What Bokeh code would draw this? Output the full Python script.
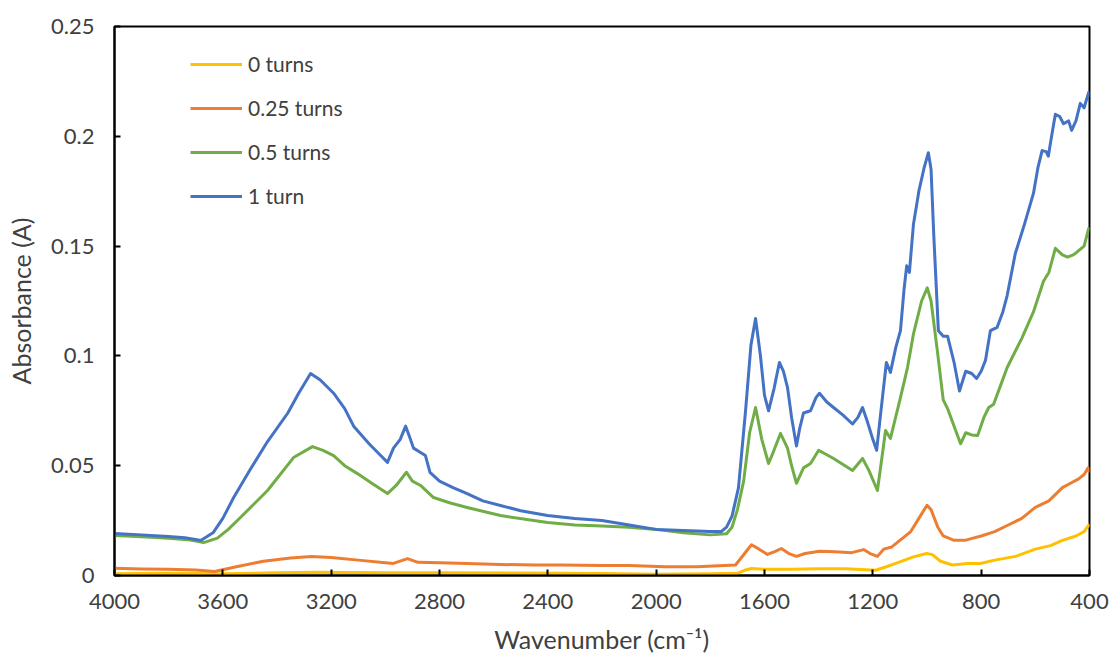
from bokeh.plotting import figure
from bokeh.models import Range1d, FixedTicker, Legend, LegendItem
from bokeh.embed import file_html
from bokeh.resources import INLINE

# ---- data: FTIR absorbance spectra (wavenumber in cm-1, absorbance in A) ----
wn_0 = [4000, 3800, 3600, 3400, 3250, 3000, 2800, 2500, 2200, 2000, 1800, 1700, 1670,
        1648, 1600, 1553, 1500, 1400, 1300, 1190, 1150, 1100, 1050, 1002, 980, 950,
        906, 850, 803, 750, 673, 600, 544, 500, 450, 420, 403, 400]
abs_0 = [0.0008, 0.0010, 0.0008, 0.0012, 0.0015, 0.0013, 0.0012, 0.0011, 0.0009, 0.0006,
         0.0008, 0.0010, 0.0025, 0.0032, 0.0028, 0.0029, 0.0028, 0.0031, 0.0031, 0.0024,
         0.0040, 0.0062, 0.0085, 0.0100, 0.0095, 0.0065, 0.0048, 0.0055, 0.0055, 0.0070,
         0.0087, 0.0120, 0.0136, 0.0160, 0.0180, 0.0200, 0.0230, 0.0220]

wn_025 = [4000, 3900, 3800, 3700, 3631, 3550, 3450, 3350, 3273, 3200, 3100, 3000, 2970,
          2918, 2880, 2800, 2700, 2575, 2450, 2354, 2200, 2100, 1966, 1850, 1707, 1680,
          1648, 1620, 1589, 1560, 1538, 1510, 1482, 1450, 1397, 1340, 1278, 1234, 1210,
          1183, 1160, 1130, 1100, 1060, 1030, 1000, 985, 960, 940, 900, 860, 830, 800,
          750, 700, 650, 600, 550, 500, 470, 440, 420, 405, 400]
abs_025 = [0.0033, 0.0030, 0.0028, 0.0025, 0.0018, 0.0040, 0.0065, 0.0080, 0.0087, 0.0082,
           0.0070, 0.0058, 0.0055, 0.0077, 0.0060, 0.0058, 0.0055, 0.0050, 0.0048, 0.0048,
           0.0045, 0.0045, 0.0040, 0.0040, 0.0048, 0.0090, 0.0140, 0.0120, 0.0096, 0.0110,
           0.0123, 0.0100, 0.0087, 0.0100, 0.0110, 0.0108, 0.0104, 0.0118, 0.0100, 0.0087,
           0.0120, 0.0130, 0.0160, 0.0200, 0.0260, 0.0320, 0.0300, 0.0220, 0.0180, 0.0160,
           0.0160, 0.0170, 0.0180, 0.0200, 0.0230, 0.0260, 0.0310, 0.0340, 0.0400, 0.0420,
           0.0440, 0.0460, 0.0490, 0.0470]

wn_05 = [4000, 3900, 3800, 3720, 3671, 3620, 3580, 3535, 3435, 3339, 3269, 3230, 3191,
         3150, 3103, 3050, 2992, 2960, 2922, 2900, 2870, 2822, 2760, 2698, 2575, 2401,
         2300, 2200, 2100, 2000, 1900, 1800, 1740, 1720, 1700, 1677, 1655, 1633, 1610,
         1585, 1565, 1541, 1515, 1500, 1482, 1456, 1430, 1400, 1370, 1345, 1275, 1238,
         1215, 1183, 1165, 1153, 1135, 1100, 1072, 1050, 1020, 999, 985, 962, 940, 924,
         900, 876, 857, 835, 813, 790, 772, 754, 730, 704, 650, 607, 570, 550, 526, 500,
         481, 460, 449, 420, 403, 400]
abs_05 = [0.0182, 0.0176, 0.0170, 0.0162, 0.0150, 0.0170, 0.0210, 0.0264, 0.0387, 0.0537,
          0.0587, 0.0570, 0.0546, 0.0500, 0.0464, 0.0420, 0.0373, 0.0410, 0.0470, 0.0430,
          0.0410, 0.0355, 0.0330, 0.0310, 0.0273, 0.0241, 0.0230, 0.0225, 0.0220, 0.0210,
          0.0195, 0.0185, 0.0190, 0.0220, 0.0300, 0.0430, 0.0650, 0.0765, 0.0620, 0.0510,
          0.0570, 0.0647, 0.0580, 0.0500, 0.0420, 0.0490, 0.0510, 0.0570, 0.0550, 0.0533,
          0.0478, 0.0533, 0.0480, 0.0387, 0.0550, 0.0660, 0.0624, 0.0800, 0.0947, 0.1100,
          0.1250, 0.1310, 0.1250, 0.1025, 0.0800, 0.0760, 0.0680, 0.0600, 0.0650, 0.0640,
          0.0638, 0.0720, 0.0765, 0.0780, 0.0860, 0.0947, 0.1080, 0.1200, 0.1340, 0.1380,
          0.1490, 0.1460, 0.1450, 0.1460, 0.1470, 0.1500, 0.1580, 0.1570]

wn_1 = [4000, 3900, 3800, 3740, 3680, 3635, 3600, 3560, 3500, 3435, 3360, 3320, 3276,
        3240, 3191, 3150, 3117, 3060, 3020, 2992, 2970, 2945, 2925, 2910, 2896, 2870,
        2852, 2835, 2800, 2750, 2698, 2640, 2575, 2500, 2401, 2300, 2200, 2100, 2000,
        1900, 1800, 1760, 1740, 1720, 1696, 1670, 1650, 1633, 1615, 1600, 1585, 1565,
        1545, 1530, 1515, 1500, 1482, 1470, 1456, 1430, 1410, 1397, 1370, 1345, 1310,
        1275, 1255, 1238, 1220, 1200, 1186, 1170, 1150, 1135, 1115, 1098, 1085, 1075,
        1065, 1050, 1030, 1010, 995, 985, 975, 958, 940, 924, 900, 880, 870, 857, 835,
        817, 800, 784, 766, 741, 720, 704, 674, 640, 607, 590, 575, 560, 552, 540, 526,
        510, 496, 477, 466, 450, 434, 420, 403, 400]
abs_1 = [0.0191, 0.0185, 0.0178, 0.0172, 0.0160, 0.0196, 0.0260, 0.0355, 0.0480, 0.0610,
         0.0740, 0.0830, 0.0920, 0.0890, 0.0830, 0.0760, 0.0680, 0.0600, 0.0550, 0.0515,
         0.0580, 0.0620, 0.0680, 0.0630, 0.0580, 0.0560, 0.0546, 0.0470, 0.0430, 0.0400,
         0.0373, 0.0340, 0.0319, 0.0295, 0.0273, 0.0260, 0.0250, 0.0230, 0.0210, 0.0205,
         0.0200, 0.0200, 0.0220, 0.0270, 0.0400, 0.0750, 0.1050, 0.1170, 0.1000, 0.0820,
         0.0750, 0.0850, 0.0970, 0.0930, 0.0856, 0.0720, 0.0590, 0.0670, 0.0740, 0.0750,
         0.0810, 0.0830, 0.0790, 0.0765, 0.0730, 0.0690, 0.0720, 0.0765, 0.0700, 0.0620,
         0.0570, 0.0750, 0.0970, 0.0925, 0.1040, 0.1115, 0.1300, 0.1410, 0.1380, 0.1600,
         0.1750, 0.1860, 0.1925, 0.1850, 0.1550, 0.1115, 0.1090, 0.1090, 0.0970, 0.0840,
         0.0880, 0.0930, 0.0920, 0.0897, 0.0930, 0.0980, 0.1115, 0.1130, 0.1200, 0.1275,
         0.1466, 0.1600, 0.1740, 0.1860, 0.1935, 0.1930, 0.1910, 0.2000, 0.2100, 0.2090,
         0.2057, 0.2070, 0.2027, 0.2070, 0.2150, 0.2130, 0.2200, 0.2180]

series_names = ["0 turns", "0.25 turns", "0.5 turns", "1 turn"]
series_colors = ["#FFC000", "#ED7D31", "#70AD47", "#4472C4"]

x_ticks = [4000, 3600, 3200, 2800, 2400, 2000, 1600, 1200, 800, 400]
x_tick_labels = ["4000", "3600", "3200", "2800", "2400", "2000", "1600", "1200", "800", "400"]
y_ticks = [0, 0.05, 0.1, 0.15, 0.2, 0.25]
y_tick_labels = ["0", "0.05", "0.1", "0.15", "0.2", "0.25"]

FONT = "Lato"
TEXT_COLOR = "#404040"

p = figure(width=1109, height=657, output_backend="svg", toolbar_location=None,
           x_range=Range1d(4000, 400), y_range=Range1d(0, 0.25),
           min_border_left=114, min_border_right=20, min_border_top=26, min_border_bottom=82)
p.grid.visible = False
p.outline_line_color = "black"
p.outline_line_width = 2
p.background_fill_color = "white"
p.border_fill_color = "white"

renderers = []
for wn, ab, color in zip([wn_0, wn_025, wn_05, wn_1], [abs_0, abs_025, abs_05, abs_1], series_colors):
    r = p.line(wn, ab, line_color=color, line_width=3, line_join="round")
    renderers.append(r)

for ax in (p.xaxis[0], p.yaxis[0]):
    ax.axis_line_color = "black"
    ax.axis_line_width = 2
    ax.major_tick_line_color = "black"
    ax.major_tick_line_width = 2
    ax.major_tick_in = 6
    ax.major_tick_out = 0
    ax.minor_tick_line_color = None
    ax.major_label_text_font = FONT
    ax.major_label_text_font_size = "22px"
    ax.major_label_text_color = TEXT_COLOR
    ax.axis_label_text_font = FONT
    ax.axis_label_text_font_size = "25px"
    ax.axis_label_text_font_style = "normal"
    ax.axis_label_text_color = TEXT_COLOR

p.xaxis.ticker = FixedTicker(ticks=x_ticks)
p.xaxis.major_label_overrides = dict(zip(x_ticks, x_tick_labels))
p.xaxis.major_label_standoff = 18
p.xaxis.axis_label = "Wavenumber (cm\u207b\u00b9)"
p.xaxis.axis_label_standoff = 12

p.yaxis.ticker = FixedTicker(ticks=y_ticks)
p.yaxis.major_label_overrides = dict(zip(y_ticks, y_tick_labels))
p.yaxis.major_label_standoff = 20
p.yaxis.axis_label = "Absorbance (A)"
p.yaxis.axis_label_standoff = 12

legend = Legend(items=[LegendItem(label=n, renderers=[r]) for n, r in zip(series_names, renderers)],
                location=(76, 367), margin=0, padding=0, spacing=19,
                glyph_width=52, glyph_height=20, label_height=20, label_standoff=6,
                label_text_font=FONT, label_text_font_size="21px", label_text_color=TEXT_COLOR,
                border_line_color=None, background_fill_alpha=0)
p.add_layout(legend)

open("out.html", "w").write(file_html(p, INLINE))
